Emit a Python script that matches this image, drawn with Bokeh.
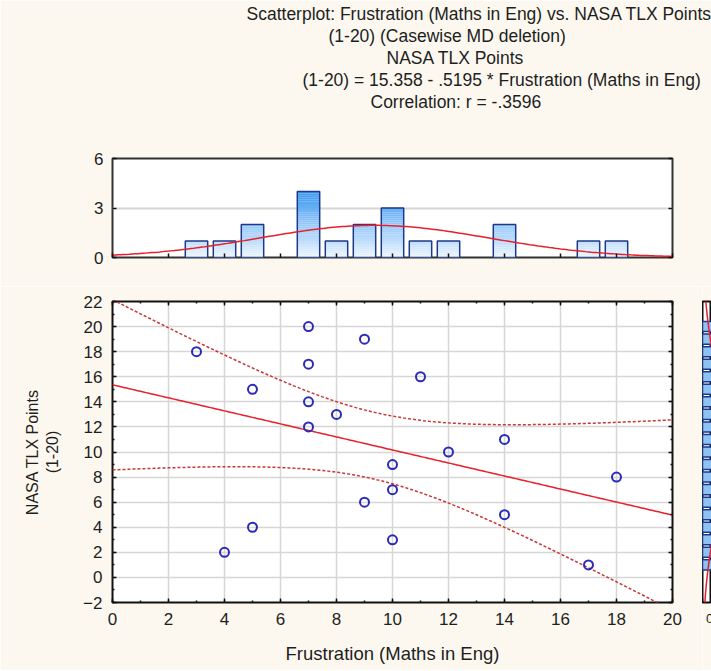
import numpy as np
from bokeh.plotting import figure
from bokeh.layouts import column, row
from bokeh.models import Range1d, LinearAxis, FixedTicker, CustomLabelingPolicy, Title
from bokeh.embed import file_html
from bokeh.resources import INLINE

# ---------------- data ----------------
x_vals = [3, 4, 5, 5, 7, 7, 7, 7, 8, 9, 9, 10, 10, 10, 11, 12, 14, 14, 17, 18]
y_vals = [18, 2, 15, 4, 20, 17, 14, 12, 13, 19, 6, 9, 7, 3, 16, 10, 11, 5, 1, 8]

x_hist_bins = [3, 4, 5, 7, 8, 9, 10, 11, 12, 14, 17, 18]
x_hist_counts = [1, 1, 2, 4, 1, 2, 3, 1, 1, 2, 1, 1]

y_hist_bins = [1, 2, 3, 4, 5, 6, 7, 8, 9, 10, 11, 12, 13, 14, 15, 16, 17, 18, 19, 20]
y_hist_counts = [1, 1, 1, 1, 1, 1, 1, 1, 1, 1, 1, 1, 1, 1, 1, 1, 1, 1, 1, 1]

intercept = 15.358
slope = -0.5195
t_crit = 2.1009  # t(0.975, df=18)

x_ticks = [0, 2, 4, 6, 8, 10, 12, 14, 16, 18, 20]
y_ticks = [-2, 0, 2, 4, 6, 8, 10, 12, 14, 16, 18, 20, 22]
hist_ticks = [0, 3, 6]

title_lines = [
    "Scatterplot: Frustration (Maths in Eng) vs. NASA TLX Points",
    "(1-20) (Casewise MD deletion)",
    "NASA TLX Points",
    "(1-20) = 15.358 - .5195 * Frustration (Maths in Eng)",
    "Correlation: r = -.3596",
]
x_label = "Frustration (Maths in Eng)"
y_label = "NASA TLX Points\n(1-20)"

# ---------------- styles ----------------
CREAM = "#fcf8ef"
FONT = "Liberation Sans"
TXT = "#1e1e1e"
RED = "#e8202c"
BLUE_PT = "#2b2bb5"
BAR_LINE = "#1d3a8a"
GRID = "#d6d6d6"
NO_LABELS = CustomLabelingPolicy(code="for (const i of indices) indices.unset(i); return indices;")

def base_fig(**kw):
    p = figure(output_backend="svg", toolbar_location=None, **kw)
    p.background_fill_color = "white"
    p.border_fill_color = CREAM
    p.outline_line_color = "#111111"
    p.outline_line_width = 2
    return p

def style_axis(ax, ticks, labels=True, minor=True):
    step = (ticks[1] - ticks[0]) / 2.0
    ax.ticker = FixedTicker(ticks=ticks,
                            minor_ticks=(list(np.arange(ticks[0], ticks[-1] + 0.01, step)) if minor else []))
    ax.axis_line_color = None
    ax.major_tick_in = 4
    ax.major_tick_out = 0
    ax.minor_tick_in = 2
    ax.minor_tick_out = 0
    ax.major_tick_line_color = "#111111"
    ax.major_tick_line_width = 1.5
    ax.minor_tick_line_color = "#111111"
    ax.minor_tick_line_width = 1.5
    ax.major_label_text_font = FONT
    ax.major_label_text_color = TXT
    ax.major_label_text_font_size = "17px"
    ax.major_label_standoff = 9
    if not labels:
        ax.major_label_policy = NO_LABELS
        ax.major_label_standoff = 0
    ax.axis_label_text_font = FONT
    ax.axis_label_text_font_style = "normal"
    ax.axis_label_text_font_size = "18.5px"
    ax.axis_label_text_color = TXT

def grad_color(frac):
    frac = max(0.0, min(1.0, frac))
    lo = np.array([236, 245, 255])
    hi = np.array([58, 152, 240])
    c = lo + (hi - lo) * frac
    return "#%02x%02x%02x" % tuple(int(round(v)) for v in c)

# ---------------- top histogram (title lines stacked above it) ----------------
hfig = base_fig(width=711, height=286, x_range=Range1d(0, 20), y_range=Range1d(0, 6),
                min_border_left=112, min_border_right=39, min_border_top=158, min_border_bottom=29)
h_left, h_below = hfig.left[0], hfig.below[0]
style_axis(h_left, hist_ticks, labels=True, minor=False)
style_axis(h_below, x_ticks, labels=False, minor=False)
h_right = LinearAxis()
hfig.add_layout(h_right, "right")
style_axis(h_right, hist_ticks, labels=False, minor=False)
hfig.xgrid.visible = False
hfig.ygrid.ticker = FixedTicker(ticks=[3])
hfig.ygrid.grid_line_color = GRID
hfig.ygrid.grid_line_width = 2
hfig.outline_line_color = "#333333"

def title_line(text, offset, standoff=0):
    return Title(text=text, align="left", offset=offset, standoff=standoff,
                 text_font=FONT, text_font_size="17.5px", text_font_style="normal",
                 text_color=TXT)

# spacer between frame and the title block, then lines from the bottom one upwards
hfig.add_layout(title_line(" ", 0, standoff=25), "above")
title_offsets = [134, 216, 274, 190, 258]
for txt_, off_ in reversed(list(zip(title_lines, title_offsets))):
    hfig.add_layout(title_line(txt_, off_), "above")

bw = 0.8
sl_l, sl_r, sl_b, sl_t, sl_c = [], [], [], [], []
steps = 8
for b, c in zip(x_hist_bins, x_hist_counts):
    n = int(round(c * steps))
    for k in range(n):
        bot = k / steps
        top = (k + 1) / steps
        sl_l.append(b - bw / 2); sl_r.append(b + bw / 2)
        sl_b.append(bot); sl_t.append(top)
        sl_c.append(grad_color(((bot + top) / 2) / 4.0))
hfig.quad(left=sl_l, right=sl_r, bottom=sl_b, top=sl_t, fill_color=sl_c, line_color=None)
hfig.quad(left=[b - bw / 2 for b in x_hist_bins], right=[b + bw / 2 for b in x_hist_bins],
          bottom=0, top=x_hist_counts, fill_color=None, line_color=BAR_LINE, line_width=1.5)

xa = np.array(x_vals, dtype=float)
ya = np.array(y_vals, dtype=float)
n_obs = len(xa)
xm, xs = xa.mean(), xa.std(ddof=1)
ym, ys = ya.mean(), ya.std(ddof=1)
xc = np.linspace(0, 20, 201)
hfig.line(xc, n_obs / (xs * np.sqrt(2 * np.pi)) * np.exp(-0.5 * ((xc - xm) / xs) ** 2),
          line_color=RED, line_width=1.5)

# ---------------- scatter ----------------
sfig = base_fig(width=702, height=384, x_range=Range1d(0, 20), y_range=Range1d(-2, 22),
                min_border_left=112, min_border_right=30, min_border_top=12, min_border_bottom=68)
s_left, s_below = sfig.left[0], sfig.below[0]
style_axis(s_below, x_ticks)
style_axis(s_left, y_ticks)
s_above, s_right = LinearAxis(), LinearAxis()
sfig.add_layout(s_above, "above")
sfig.add_layout(s_right, "right")
style_axis(s_above, x_ticks, labels=False)
style_axis(s_right, y_ticks, labels=False)
s_below.axis_label = x_label
s_below.major_label_standoff = 10
s_below.axis_label_standoff = 15
s_left.axis_label = y_label
s_left.axis_label_text_font_size = "16px"
s_left.major_label_standoff = 10
s_left.axis_label_standoff = 19
sfig.xgrid.ticker = FixedTicker(ticks=x_ticks)
sfig.ygrid.ticker = FixedTicker(ticks=y_ticks)
sfig.grid.grid_line_color = GRID
sfig.grid.grid_line_width = 1.5

sxx = ((xa - xm) ** 2).sum()
resid = ya - (intercept + slope * xa)
s_err = np.sqrt((resid ** 2).sum() / (n_obs - 2))
xl = np.linspace(0, 20, 201)
yl = intercept + slope * xl
half = t_crit * s_err * np.sqrt(1.0 / n_obs + (xl - xm) ** 2 / sxx)
sfig.line(xl, yl, line_color=RED, line_width=1.5)
sfig.line(xl, yl + half, line_color="#cc3535", line_width=1.5, line_dash="3 2")
sfig.line(xl, yl - half, line_color="#cc3535", line_width=1.5, line_dash="3 2")
sfig.scatter(x_vals, y_vals, marker="circle", size=9, fill_color=None,
             line_color=BLUE_PT, line_width=2)

# ---------------- right histogram (cut off by the window) ----------------
rfig = base_fig(width=9, height=384, x_range=Range1d(0, 0.55), y_range=Range1d(-2, 22),
                min_border_left=0, min_border_right=0, min_border_top=12, min_border_bottom=68,
                y_axis_type=None)
r_below = rfig.below[0]
style_axis(r_below, [0, 1], labels=True, minor=False)
r_below.ticker = FixedTicker(ticks=[0])
r_below.major_label_text_align = "left"
r_below.major_label_text_font_size = "13px"
r_below.major_label_standoff = 11
rfig.grid.visible = False
rfig.quad(left=0, right=y_hist_counts, bottom=[b - 0.4 for b in y_hist_bins],
          top=[b + 0.4 for b in y_hist_bins], fill_color="#8ec2f2", line_color=BAR_LINE, line_width=1.5)
yc = np.linspace(-2, 22, 241)
rfig.line(n_obs / (ys * np.sqrt(2 * np.pi)) * np.exp(-0.5 * ((yc - ym) / ys) ** 2), yc,
          line_color=RED, line_width=1.5)

layout = column(hfig, row(sfig, rfig))
open("out.html", "w").write(file_html(layout, INLINE))
